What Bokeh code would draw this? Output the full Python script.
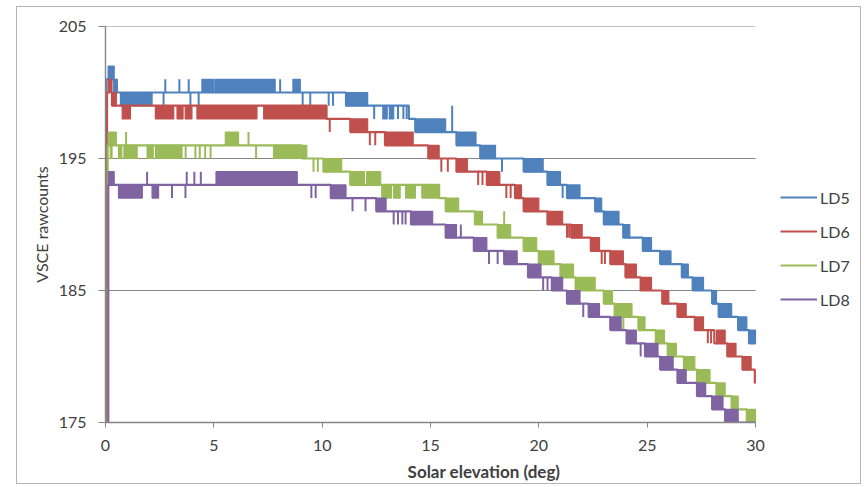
from bokeh.plotting import figure
from bokeh.models import Range1d, FixedTicker, Legend, LegendItem
from bokeh.embed import file_html
from bokeh.resources import INLINE

# ---------------- data ----------------
X_TICKS = [0, 5, 10, 15, 20, 25, 30]
Y_TICKS = [175, 185, 195, 205]
GRID_Y = [185, 195, 205]
X_MIN, X_MAX_AXIS = 0, 30
SERIES = ["LD5", "LD6", "LD7", "LD8"]
COLORS = ["#4F81BD", "#C0504D", "#9BBB59", "#8064A2"]

# LD5: base staircase (level from x onward), toggle blocks (lo..lo+1), spikes
LD5_STEP_X = [0.02, 0.04, 0.4, 11.1, 14.0, 14.3, 16.2, 17.3, 19.3, 20.4, 21.3, 22.6, 23.0, 23.9,
              24.8, 25.6, 26.6, 27.1, 28.0, 28.3, 29.2, 29.7, 30.0]
LD5_STEP_Y = [175, 201, 200, 199, 198, 197, 196, 195, 194, 193, 192, 191, 190, 189,
              188, 187, 186, 185, 184, 183, 182, 181, 181]
LD5_BLK_X0 = [0.12, 0.4, 0.69, 4.45, 5.05, 8.65, 11.1, 12.8, 13.1, 14.3, 16.2, 17.3, 19.3, 20.4,
              21.3, 22.6, 23.0, 23.9, 24.8, 25.6, 26.6, 27.1, 28.0, 28.3, 29.2, 29.7]
LD5_BLK_X1 = [0.4, 0.55, 2.15, 5.0, 7.83, 8.99, 12.1, 13.0, 13.3, 15.7, 17.1, 18.0, 20.2, 21.0,
              21.9, 22.9, 23.7, 24.2, 25.2, 26.1, 26.9, 27.6, 28.2, 28.9, 29.6, 30.0]
LD5_BLK_LO = [201, 200, 199, 200, 200, 200, 199, 198, 198, 197, 196, 195, 194, 193,
              192, 191, 190, 189, 188, 187, 186, 185, 184, 183, 182, 181]
LD5_SPK_X = [2.68, 2.76, 3.41, 3.84, 3.92, 4.3, 8.06, 9.1, 9.45, 10.3, 10.5, 12.4, 13.5, 13.75,
             13.9, 16.0, 18.3, 21.1, 28.1]
LD5_SPK_LO = [199, 200, 200, 200, 199, 199, 200, 199, 199, 199, 199, 198, 198, 198,
              198, 197, 194, 192, 184]
LD5_SPK_HI = [200, 201, 201, 201, 200, 200, 201, 200, 200, 200, 200, 199, 199, 199,
              199, 199, 195, 193, 185]

LD6_STEP_X = [0.05, 0.07, 0.3, 10.2, 11.3, 12.9, 14.9, 16.2, 17.6, 18.9, 19.3, 20.4, 21.5, 22.4,
              23.3, 24.0, 24.7, 25.7, 26.4, 27.2, 28.1, 28.7, 29.4, 29.97, 30.0]
LD6_STEP_Y = [175, 200, 199, 198, 197, 196, 195, 194, 193, 192, 191, 190, 189, 188,
              187, 186, 185, 184, 183, 182, 181, 180, 179, 178, 178]
LD6_BLK_X0 = [0.12, 0.3, 0.77, 2.3, 3.3, 3.68, 4.22, 7.3, 11.3, 12.9, 14.9, 16.2, 17.6, 18.9,
              19.3, 20.4, 21.5, 22.4, 23.3, 24.0, 24.7, 25.7, 26.4, 27.2, 28.2, 28.7, 29.4]
LD6_BLK_X1 = [0.3, 0.5, 1.15, 3.15, 3.58, 3.99, 6.99, 10.2, 12.1, 14.2, 15.4, 16.7, 18.2, 19.2,
              20.0, 21.1, 22.0, 22.8, 23.9, 24.5, 25.2, 26.0, 26.8, 27.6, 28.6, 29.1, 29.8]
LD6_BLK_LO = [200, 199, 198, 198, 198, 198, 198, 198, 197, 196, 195, 194, 193, 192,
              191, 190, 189, 188, 187, 186, 185, 184, 183, 182, 181, 180, 179]
LD6_SPK_X = [10.35, 12.2, 12.45, 15.5, 15.8, 17.2, 17.4, 18.5, 18.7, 21.3, 21.4, 22.9, 23.05,
             27.8, 27.95]
LD6_SPK_LO = [197, 196, 196, 194, 194, 193, 193, 192, 192, 189, 189, 187, 187, 181, 181]
LD6_SPK_HI = [198, 197, 197, 195, 195, 194, 194, 193, 193, 190, 190, 188, 188, 182, 182]

LD7_STEP_X = [0.08, 0.10, 9.06, 10.06, 11.3, 15.4, 15.7, 17.05, 18.1, 19.3, 20.0, 21.0, 21.7,
              23.0, 23.5, 24.6, 25.4, 25.95, 26.7, 27.3, 28.2, 28.9, 29.6, 30.0]
LD7_STEP_Y = [175, 196, 195, 194, 193, 192, 191, 190, 189, 188, 187, 186, 185,
              184, 183, 182, 181, 180, 179, 178, 177, 176, 175, 175]
LD7_BLK_X0 = [0.12, 0.22, 0.6, 0.85, 1.92, 2.31, 5.53, 7.76, 9.06, 10.06, 11.3, 12.05, 12.75,
              13.3, 13.85, 14.6, 15.7, 17.05, 18.1, 19.3, 20.0, 21.0, 21.7, 23.0, 23.5, 24.6,
              25.4, 25.95, 26.7, 27.3, 28.2, 28.9, 29.6]
LD7_BLK_X1 = [0.5, 0.3, 0.75, 1.46, 2.2, 3.53, 6.14, 8.99, 9.29, 10.9, 11.95, 12.7, 13.2,
              13.6, 14.3, 15.4, 16.3, 17.4, 18.7, 19.9, 20.7, 21.6, 22.6, 23.4, 24.3, 24.9,
              25.8, 26.35, 27.2, 27.9, 28.6, 29.2, 30.0]
LD7_BLK_LO = [196, 195, 195, 195, 195, 195, 196, 195, 195, 194, 193, 193, 192,
              192, 192, 192, 191, 190, 189, 188, 187, 186, 185, 184, 183, 182,
              181, 180, 179, 178, 177, 176, 175]
LD7_SPK_X = [0.95, 3.7, 4.15, 4.35, 4.6, 4.85, 6.6, 6.95, 9.6, 9.8, 18.4, 23.7, 23.9]
LD7_SPK_LO = [196, 195, 195, 195, 195, 195, 196, 195, 194, 194, 189, 182, 182]
LD7_SPK_HI = [197, 196, 196, 196, 196, 196, 197, 196, 195, 195, 191, 183, 183]

LD8_STEP_X = [0.11, 0.13, 10.4, 12.5, 14.1, 15.7, 17.0, 18.4, 19.5, 20.6, 21.3, 22.3, 23.3,
              24.05, 24.9, 25.6, 26.4, 27.3, 28.0, 28.6, 30.0]
LD8_STEP_Y = [175, 193, 192, 191, 190, 189, 188, 187, 186, 185, 184, 183, 182,
              181, 180, 179, 178, 177, 176, 175, 175]
LD8_BLK_X0 = [0.13, 0.6, 2.15, 5.1, 10.4, 12.5, 14.1, 15.7, 17.0, 18.4, 19.5, 20.6, 21.3,
              22.3, 23.3, 24.05, 24.9, 25.6, 26.4, 27.3, 28.0, 28.6]
LD8_BLK_X1 = [0.4, 1.7, 2.45, 8.85, 11.1, 12.95, 15.1, 16.2, 17.6, 19.0, 20.1, 21.1, 21.9,
              22.8, 23.8, 24.5, 25.5, 26.2, 26.8, 27.7, 28.5, 29.2]
LD8_BLK_LO = [193, 192, 192, 193, 192, 191, 190, 189, 188, 187, 186, 185, 184,
              183, 182, 181, 180, 179, 178, 177, 176, 175]
LD8_SPK_X = [1.92, 3.07, 3.69, 3.75, 4.1, 4.4, 9.5, 9.7, 11.4, 12.0, 13.3, 13.5, 13.7, 13.85,
             16.4, 17.7, 18.1, 20.2, 20.4, 22.05, 24.7]
LD8_SPK_LO = [193, 192, 192, 193, 193, 193, 192, 192, 191, 191, 190, 190, 190, 190,
              189, 187, 187, 185, 185, 183, 180]
LD8_SPK_HI = [194, 193, 193, 194, 194, 194, 193, 193, 192, 192, 191, 191, 191, 191,
              190, 188, 188, 186, 186, 184, 181]

DATA = {
    "LD5": (LD5_STEP_X, LD5_STEP_Y, LD5_BLK_X0, LD5_BLK_X1, LD5_BLK_LO, LD5_SPK_X, LD5_SPK_LO, LD5_SPK_HI),
    "LD6": (LD6_STEP_X, LD6_STEP_Y, LD6_BLK_X0, LD6_BLK_X1, LD6_BLK_LO, LD6_SPK_X, LD6_SPK_LO, LD6_SPK_HI),
    "LD7": (LD7_STEP_X, LD7_STEP_Y, LD7_BLK_X0, LD7_BLK_X1, LD7_BLK_LO, LD7_SPK_X, LD7_SPK_LO, LD7_SPK_HI),
    "LD8": (LD8_STEP_X, LD8_STEP_Y, LD8_BLK_X0, LD8_BLK_X1, LD8_BLK_LO, LD8_SPK_X, LD8_SPK_LO, LD8_SPK_HI),
}

FONT = "Lato"
TXT = "#404040"
AXC = "#868686"

# frame spans to the right edge so the legend (inside the frame) is not clipped;
# the data axis itself is bounded to 0..30
FRAME_LEFT, FRAME_RIGHT_PX, CANVAS_W = 88, 845, 845
PX_PER_UNIT = 650 / 30.0
x_max = (FRAME_RIGHT_PX - FRAME_LEFT) / PX_PER_UNIT

p = figure(width=CANVAS_W, height=478, x_range=Range1d(0, x_max), y_range=Range1d(175, 205),
           output_backend="svg", toolbar_location=None,
           min_border_left=FRAME_LEFT, min_border_right=0, min_border_top=19, min_border_bottom=63)
p.styles = {"margin-left": "16px", "margin-top": "6px", "border": "1px solid #b4b4b4"}
p.outline_line_color = None
p.background_fill_color = "white"
p.border_fill_color = "white"

p.xgrid.visible = False
p.ygrid.visible = False
p.segment(x0=[X_MIN] * len(GRID_Y), x1=[X_MAX_AXIS] * len(GRID_Y), y0=GRID_Y, y1=GRID_Y,
          line_color=AXC, line_width=1.2)

p.xaxis.ticker = FixedTicker(ticks=X_TICKS)
p.yaxis.ticker = FixedTicker(ticks=Y_TICKS)
p.xaxis.bounds = (X_MIN, X_MAX_AXIS)
for ax in (p.xaxis[0], p.yaxis[0]):
    ax.axis_line_color = AXC
    ax.axis_line_width = 1.4
    ax.major_tick_line_color = AXC
    ax.major_tick_in = 0
    ax.minor_tick_line_color = None
    ax.major_label_text_font = FONT
    ax.major_label_text_font_size = "16px"
    ax.major_label_text_color = TXT
    ax.axis_label_text_font = FONT
    ax.axis_label_text_color = TXT
    ax.axis_label_text_font_style = "normal"
p.xaxis.major_tick_out = 5
p.yaxis.major_tick_out = 7
p.xaxis.major_label_standoff = 12
p.yaxis.major_label_standoff = 12
p.xaxis.axis_label = "Solar elevation (deg)"
p.xaxis.axis_label_text_font_style = "bold"
p.xaxis.axis_label_text_font_size = "17px"
p.xaxis.axis_label_standoff = 7
p.yaxis.axis_label = "VSCE rawcounts"
p.yaxis.axis_label_text_font_size = "16px"
p.yaxis.axis_label_standoff = 5

items = []
for name, color in zip(SERIES, COLORS):
    sx, sy, bx0, bx1, blo, kx, klo, khi = DATA[name]
    p.quad(left=bx0, right=bx1, bottom=blo, top=[v + 1 for v in blo],
           fill_color=color, line_color=color, line_width=1.2)
    p.segment(x0=kx, y0=klo, x1=kx, y1=khi, line_color=color, line_width=2)
    r = p.step(x=sx, y=sy, mode="after", line_color=color, line_width=2.2)
    items.append(LegendItem(label=name, renderers=[r]))

legend = Legend(items=items, location=(675, 113), orientation="vertical",
                glyph_width=37, glyph_height=20, label_height=20, spacing=14,
                padding=0, margin=0, label_standoff=3,
                border_line_color=None, background_fill_alpha=0,
                label_text_font=FONT, label_text_font_size="16px", label_text_color=TXT)
p.add_layout(legend, "center")

open("out.html", "w").write(file_html(p, INLINE))
